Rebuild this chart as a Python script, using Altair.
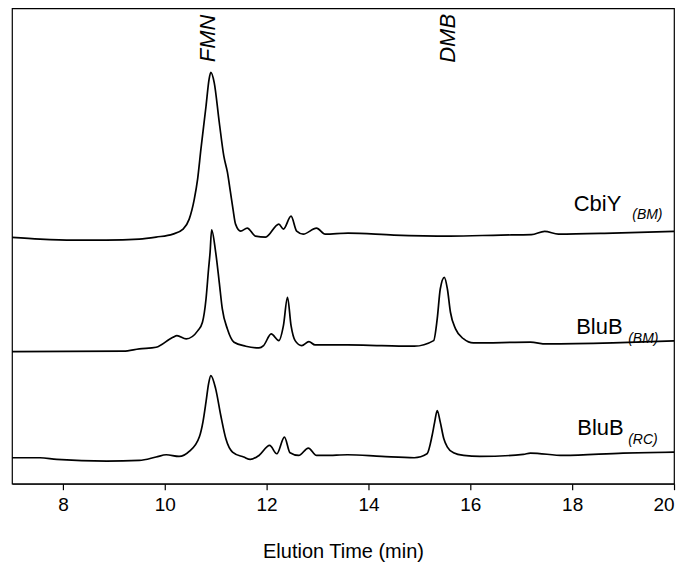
import altair as alt
import pandas as pd

# ---- data (elution time in min, detector signal in arbitrary units)
cbiy_t = [7.0, 7.55, 8.2, 8.85, 9.5, 9.83, 10.16, 10.36, 10.48, 10.58, 10.645, 10.71, 10.81, 10.87,
          10.905, 10.97, 11.07, 11.16, 11.23, 11.29, 11.34, 11.39, 11.49, 11.62, 11.78, 11.98,
          12.24, 12.33, 12.48, 12.59, 12.72, 12.98, 13.15, 13.6, 14.5, 15.6, 16.6, 17.2, 17.46,
          17.73, 18.8, 20.0]
cbiy_s = [246.7, 245, 244, 244, 245, 247, 250, 255, 265, 285, 305, 335, 378, 405,
          412, 402, 362, 328, 312, 292, 275, 260, 253, 256, 248, 247,
          260, 255, 268, 253, 250, 256, 250, 251, 249, 248, 249, 249.5, 252.7,
          250, 251, 252.7]

blub_bm_t = [7.0, 9.19, 9.5, 9.83, 10.16, 10.24, 10.42, 10.65, 10.74, 10.81, 10.86, 10.89, 10.92,
             11.0, 11.07, 11.13, 11.23, 11.36, 11.59, 11.85, 11.94, 12.09, 12.24, 12.33, 12.41,
             12.48, 12.56, 12.69, 12.83, 12.95, 13.59, 14.26, 14.9, 15.28, 15.35, 15.41, 15.49,
             15.55, 15.61, 15.71, 15.87, 16.06, 17.18, 17.49, 18.8, 20.0]
blub_bm_s = [132.3, 132.7, 135, 136.7, 146.7, 148.3, 145, 153.3, 161.7, 185, 215, 231.7, 254.3,
             231.7, 201.7, 175, 155, 141.7, 137.7, 136, 138.3, 150, 143.3, 158.3, 186.7,
             158.3, 143.3, 138.3, 142.3, 139, 139, 138.3, 137.7, 143.3, 165, 195, 206.7,
             195, 171.7, 155, 145, 141, 141.7, 140, 141, 143]

blub_rc_t = [7.0, 7.55, 7.88, 8.86, 9.5, 9.83, 10.03, 10.28, 10.48, 10.68, 10.75, 10.81, 10.86,
             10.905, 11.0, 11.1, 11.2, 11.33, 11.55, 11.68, 11.85, 12.06, 12.2, 12.35, 12.46, 12.63,
             12.82, 12.98, 13.15, 13.59, 14.26, 14.9, 15.15, 15.25, 15.3, 15.35, 15.41, 15.48,
             15.55, 15.67, 15.87, 16.19, 17.04, 17.18, 17.83, 19.0, 20.0]
blub_rc_s = [26, 26, 24.3, 22.7, 23.3, 26.7, 29, 27.3, 32.3, 47, 62, 82, 100,
             108.3, 95, 68.3, 45, 31.7, 26.7, 24.3, 28.3, 38.3, 30, 46.7, 31, 28.3,
             35.7, 28.3, 28.3, 29, 27.3, 26, 30, 48.3, 61.7, 73.3, 61.7, 45,
             36.7, 31, 28.3, 27.3, 29.3, 30.7, 28.3, 30.7, 31.7]

series_names = ["CbiY (BM)", "BluB (BM)", "BluB (RC)"]
x_ticks = [8, 10, 12, 14, 16, 18, 20]

# trace labels: main text, subscript text
label_main = ["CbiY", "BluB", "BluB"]
label_sub = ["(BM)", "(BM)", "(RC)"]
label_main_pos = [(18.03, 273.3), (18.08, 150.0), (18.10, 48.3)]
label_sub_pos = [(19.18, 265.0), (19.10, 140.5), (19.10, 40.0)]

peak_names = ["FMN", "DMB"]
peak_pos = [(10.856, 446.0), (15.56, 446.0)]

FONT = "Liberation Sans"

rows = []
for name, ts, ss in zip(series_names, [cbiy_t, blub_bm_t, blub_rc_t], [cbiy_s, blub_bm_s, blub_rc_s]):
    for t, s in zip(ts, ss):
        rows.append({"series": name, "t": t, "s": s})
df = pd.DataFrame(rows)

xscale = alt.Scale(domain=[7, 20], nice=False, zero=False)
yscale = alt.Scale(domain=[0, 476], nice=False, zero=False)

lines = alt.Chart(df).mark_line(interpolate="monotone", color="black", strokeWidth=1.7).encode(
    x=alt.X("t:Q", scale=xscale,
            axis=alt.Axis(title="Elution Time (min)", values=x_ticks, grid=False, format="d")),
    y=alt.Y("s:Q", scale=yscale, axis=None),
    detail="series:N",
)

main_df = pd.DataFrame({"t": [p[0] for p in label_main_pos], "s": [p[1] for p in label_main_pos],
                        "text": label_main})
sub_df = pd.DataFrame({"t": [p[0] for p in label_sub_pos], "s": [p[1] for p in label_sub_pos],
                       "text": label_sub})
peak_df = pd.DataFrame({"t": [p[0] for p in peak_pos], "s": [p[1] for p in peak_pos],
                        "text": peak_names})

main_text = alt.Chart(main_df).mark_text(
    align="left", baseline="alphabetic", fontSize=22, font=FONT, color="black"
).encode(x=alt.X("t:Q", scale=xscale), y=alt.Y("s:Q", scale=yscale), text="text:N")

sub_text = alt.Chart(sub_df).mark_text(
    align="left", baseline="alphabetic", fontSize=14, font=FONT, fontStyle="italic", color="black"
).encode(x=alt.X("t:Q", scale=xscale), y=alt.Y("s:Q", scale=yscale), text="text:N")

peak_text = alt.Chart(peak_df).mark_text(
    align="center", baseline="middle", angle=270, fontSize=22, font=FONT, fontStyle="italic",
    color="black"
).encode(x=alt.X("t:Q", scale=xscale), y=alt.Y("s:Q", scale=yscale), text="text:N")

chart = alt.layer(lines, main_text, sub_text, peak_text).properties(
    width=663, height=476,
    padding=0,
).configure_view(
    stroke="black", strokeWidth=1.2
).configure_axis(
    labelFont=FONT, labelFontSize=19, labelColor="black",
    titleFont=FONT, titleFontSize=20, titleColor="black", titleFontWeight="normal",
    domainColor="black", tickColor="black", tickSize=6, labelPadding=6, titlePadding=27,
    domainWidth=1.2, tickWidth=1.2,
)

chart.save("out.html", embed_options={"renderer": "svg", "actions": False})
